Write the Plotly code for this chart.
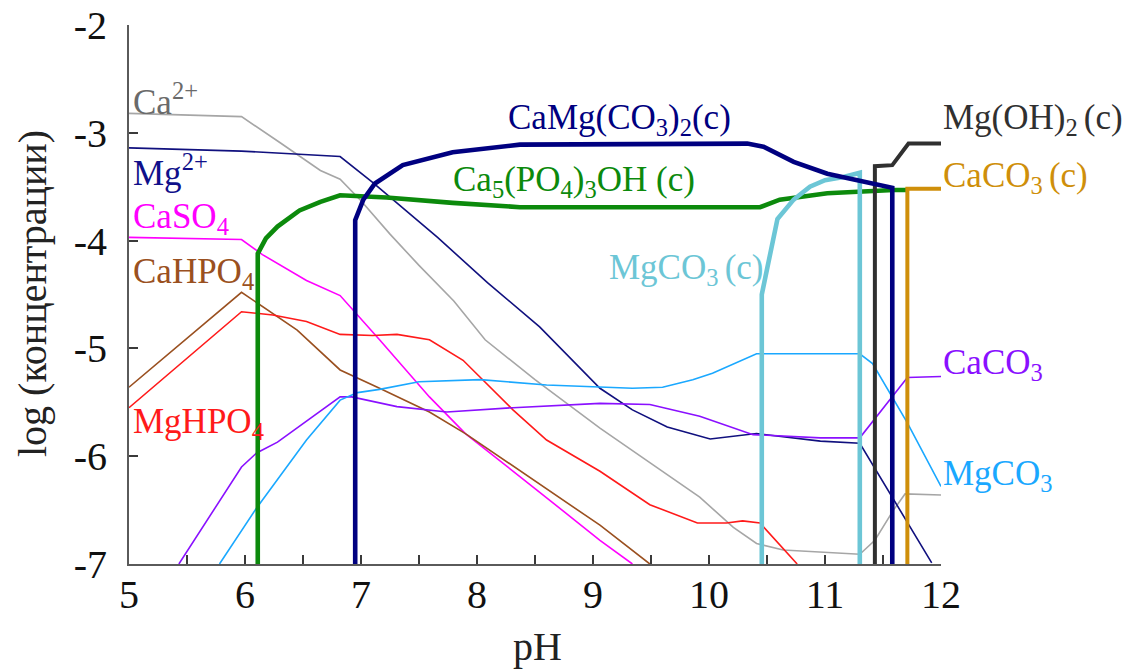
import plotly.graph_objects as go

# ---------------- data ----------------
ca_ion_ph = [5.0, 5.97, 6.3, 6.65, 6.82, 7.0, 7.25, 7.5, 7.8, 8.07, 8.5, 9.06, 9.49, 9.92, 10.21, 10.41, 10.64, 10.96, 11.30, 11.43, 11.59, 11.69, 12.0]
ca_ion_log = [-2.82, -2.85, -3.09, -3.35, -3.43, -3.63, -3.94, -4.23, -4.56, -4.92, -5.29, -5.74, -6.06, -6.38, -6.66, -6.81, -6.87, -6.89, -6.91, -6.78, -6.50, -6.35, -6.36]

mg_ion_ph = [5.0, 5.97, 6.82, 7.1, 7.66, 8.09, 8.54, 9.06, 9.34, 9.64, 10.01, 10.41, 10.96, 11.30, 11.92]
mg_ion_log = [-3.14, -3.17, -3.22, -3.46, -3.97, -4.39, -4.80, -5.37, -5.57, -5.73, -5.84, -5.79, -5.86, -5.88, -6.99]

caso4_ph = [5.0, 5.97, 6.15, 6.53, 6.82, 7.16, 7.59, 7.9, 8.5, 9.06, 9.34]
caso4_log = [-3.97, -3.99, -4.13, -4.37, -4.51, -4.92, -5.45, -5.79, -6.30, -6.78, -7.0]

cahpo4_ph = [5.0, 5.97, 6.45, 6.82, 7.16, 7.59, 7.9, 8.5, 9.06, 9.49]
cahpo4_log = [-5.36, -4.48, -4.83, -5.20, -5.37, -5.59, -5.79, -6.23, -6.64, -7.0]

mghpo4_ph = [5.0, 5.97, 6.24, 6.53, 6.82, 7.1, 7.31, 7.59, 7.88, 8.31, 8.6, 9.06, 9.49, 9.9, 10.15, 10.29, 10.44, 10.76]
mghpo4_log = [-5.55, -4.66, -4.69, -4.75, -4.87, -4.88, -4.87, -4.92, -5.11, -5.57, -5.85, -6.14, -6.45, -6.62, -6.62, -6.60, -6.62, -7.0]

caco3_ph = [5.43, 5.97, 6.10, 6.28, 6.82, 6.92, 7.31, 7.74, 8.31, 9.06, 9.49, 9.92, 10.38, 10.96, 11.30, 11.71, 12.0]
caco3_log = [-7.0, -6.10, -5.97, -5.87, -5.45, -5.45, -5.54, -5.59, -5.55, -5.51, -5.52, -5.63, -5.80, -5.83, -5.83, -5.27, -5.26]

mgco3_ph = [5.78, 6.10, 6.53, 6.82, 6.97, 7.16, 7.5, 8.03, 8.6, 9.06, 9.34, 9.6, 9.86, 10.03, 10.41, 11.30, 11.41, 11.71, 12.0]
mgco3_log = [-7.0, -6.48, -5.85, -5.48, -5.41, -5.38, -5.31, -5.29, -5.34, -5.36, -5.37, -5.36, -5.29, -5.23, -5.05, -5.05, -5.14, -5.69, -6.28]

hap_ph = [6.11, 6.11, 6.18, 6.28, 6.47, 6.65, 6.82, 7.22, 7.79, 8.37, 8.89, 10.0, 10.44, 10.61, 11.02, 11.59, 11.71]
hap_log = [-7.0, -4.12, -3.98, -3.87, -3.72, -3.64, -3.58, -3.60, -3.65, -3.69, -3.69, -3.69, -3.69, -3.62, -3.56, -3.53, -3.53]

dolo_ph = [6.95, 6.95, 7.02, 7.12, 7.36, 7.79, 8.37, 9.5, 10.33, 10.47, 10.61, 10.73, 11.02, 11.30, 11.58, 11.58]
dolo_log = [-7.0, -3.81, -3.62, -3.47, -3.30, -3.18, -3.11, -3.10, -3.10, -3.13, -3.21, -3.27, -3.38, -3.44, -3.51, -7.0]

mgco3c_ph = [10.455, 10.455, 10.59, 10.73, 10.87, 11.0, 11.16, 11.30, 11.30]
mgco3c_log = [-7.0, -4.50, -3.80, -3.62, -3.50, -3.44, -3.41, -3.37, -7.0]

mgoh2_ph = [11.43, 11.43, 11.58, 11.72, 12.0]
mgoh2_log = [-7.0, -3.31, -3.30, -3.10, -3.10]

caco3c_ph = [11.71, 11.71, 12.0]
caco3c_log = [-7.0, -3.52, -3.52]

x_ticks = [5, 5.5, 6, 6.5, 7, 7.5, 8, 8.5, 9, 9.5, 10, 10.5, 11, 11.5, 12]
x_tick_text = ["5", " ", "6", " ", "7", " ", "8", " ", "9", " ", "10", " ", "11", " ", "12"]
y_ticks = [-2, -3, -4, -5, -6, -7]
y_tick_text = ["-2", "-3", "-4", "-5", "-6", "-7"]

# ---------------- figure ----------------
W, H = 1126, 671
L, R, T, B = 129, 185, 25, 107
PW, PH = W - L - R, H - T - B
FONT = "Liberation Serif"


def px(x):
    return (x - L) / PW


def py(y):
    return (T + PH - y) / PH


fig = go.Figure()

thin = [
    (ca_ion_ph, ca_ion_log, "#A6A6A6"),
    (mg_ion_ph, mg_ion_log, "#10107E"),
    (caso4_ph, caso4_log, "#FF00FF"),
    (cahpo4_ph, cahpo4_log, "#9A5020"),
    (mghpo4_ph, mghpo4_log, "#FF1A1A"),
    (caco3_ph, caco3_log, "#8A10FF"),
    (mgco3_ph, mgco3_log, "#1AA8FF"),
]
for xs, ys, c in thin:
    fig.add_trace(go.Scatter(x=xs, y=ys, mode="lines", line=dict(color=c, width=1.6),
                             showlegend=False, hoverinfo="skip"))

thick = [
    (hap_ph, hap_log, "#0C8A0C", 4.6),
    (mgco3c_ph, mgco3c_log, "#6CC6D6", 4.6),
    (mgoh2_ph, mgoh2_log, "#303030", 4.0),
    (dolo_ph, dolo_log, "#000080", 4.6),
    (caco3c_ph, caco3c_log, "#CF8F0A", 4.0),
]
for xs, ys, c, w in thick:
    fig.add_trace(go.Scatter(x=xs, y=ys, mode="lines", line=dict(color=c, width=w),
                             showlegend=False, hoverinfo="skip"))

labels = [
    ("Ca<sup>2+</sup>", 131, 100, "#6A6A6A"),
    ("Mg<sup>2+</sup>", 131, 171, "#10108A"),
    ("CaSO<sub>4</sub>", 131, 219, "#FF00FF"),
    ("CaHPO<sub>4</sub>", 131, 273, "#9A5020"),
    ("MgHPO<sub>4</sub>", 131, 423, "#FF1A1A"),
    ("CaMg(CO<sub>3</sub>)<sub>2</sub>(c)", 506, 120, "#000080"),
    ("Ca<sub>5</sub>(PO<sub>4</sub>)<sub>3</sub>OH (c)", 451, 182, "#0C8A0C"),
    ("MgCO<sub>3 </sub>(c)", 607, 269, "#6CC6D6"),
    ("Mg(OH)<sub>2 </sub>(c)", 941, 120, "#303030"),
    ("CaCO<sub>3 </sub>(c)", 941, 177, "#CF8F0A"),
    ("CaCO<sub>3</sub>", 941, 364, "#8A10FF"),
    ("MgCO<sub>3</sub>", 941, 475, "#1AA8FF"),
]
for text, x0, yc, c in labels:
    fig.add_annotation(text=text, xref="paper", yref="paper", x=px(x0), y=py(yc),
                       xanchor="left", yanchor="middle", showarrow=False,
                       font=dict(family=FONT, size=35, color=c))

fig.add_annotation(text="pH", xref="paper", yref="paper", x=px(537), y=py(646),
                   xanchor="center", yanchor="middle", showarrow=False,
                   font=dict(family=FONT, size=40, color="#222222"))
fig.add_annotation(text="log (концентрации)", xref="paper", yref="paper", x=px(32), y=py(294),
                   xanchor="center", yanchor="middle", textangle=-90, showarrow=False,
                   font=dict(family=FONT, size=40, color="#222222"))

axis_common = dict(showline=True, linecolor="#5A5A5A", linewidth=2, ticks="inside",
                   ticklen=9, tickwidth=2, tickcolor="#3A3A3A", showgrid=False,
                   zeroline=False, mirror=False,
                   tickfont=dict(family=FONT, size=40, color="#111111"))

fig.update_layout(
    width=W, height=H,
    font=dict(family=FONT, size=40, color="#111111"),
    margin=dict(l=L, r=R, t=T, b=B, autoexpand=False),
    paper_bgcolor="white", plot_bgcolor="white",
    xaxis=dict(range=[5, 12], tickvals=x_ticks, ticktext=x_tick_text,
               ticklabelstandoff=-6, **axis_common),
    yaxis=dict(range=[-7, -2], tickvals=y_ticks, ticktext=y_tick_text,
               ticklabelstandoff=12, **axis_common),
    showlegend=False,
)

fig.write_html("out.html")
